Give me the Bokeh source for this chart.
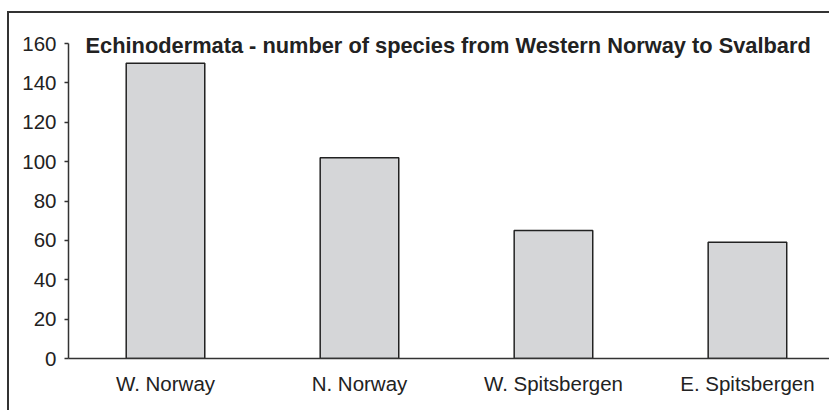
from bokeh.plotting import figure
from bokeh.models import Range1d, FixedTicker, Label, ColumnDataSource
from bokeh.layouts import column
from bokeh.embed import file_html
from bokeh.resources import INLINE

categories = ["W. Norway", "N. Norway", "W. Spitsbergen", "E. Spitsbergen"]
species = [150, 102, 65, 59]
y_ticks = [0, 20, 40, 60, 80, 100, 120, 140, 160]
title_text = "Echinodermata - number of species from Western Norway to Svalbard"

xs = list(range(len(categories)))
src = ColumnDataSource(dict(x=xs, top=species, name=categories))

FONT = "Liberation Sans"

p = figure(width=820, height=397, output_backend="svg", toolbar_location=None,
           x_range=Range1d(-0.5, 3.423), y_range=Range1d(0, 170.16),
           min_border_left=59, min_border_top=10, min_border_bottom=52,
           min_border_right=0)
p.outline_line_color = None
p.xgrid.grid_line_color = None
p.ygrid.grid_line_color = None
p.background_fill_color = "white"
p.border_fill_color = "white"

p.vbar(x="x", top="top", width=0.405, bottom=0, source=src,
       fill_color="#d5d6d8", line_color="#222222", line_width=1.5)

# y axis
ya = p.yaxis[0]
ya.ticker = FixedTicker(ticks=y_ticks)
ya.bounds = (0, 160)
ya.minor_tick_line_color = None
ya.major_tick_in = 0
ya.major_tick_out = 4
ya.axis_line_color = "#333333"
ya.axis_line_width = 1.5
ya.major_tick_line_color = "#333333"
ya.major_tick_line_width = 1.5
ya.major_label_text_font = FONT
ya.major_label_text_font_size = "20.5px"
ya.major_label_text_color = "#222222"
ya.major_label_standoff = 8

# x axis
xa = p.xaxis[0]
xa.ticker = FixedTicker(ticks=xs)
xa.major_label_overrides = {i: c for i, c in zip(xs, categories)}
xa.minor_tick_line_color = None
xa.major_tick_line_color = None
xa.major_tick_in = 0
xa.major_tick_out = 0
xa.axis_line_color = "#333333"
xa.axis_line_width = 1.5
xa.major_label_text_font = FONT
xa.major_label_text_font_size = "20.5px"
xa.major_label_text_color = "#222222"
xa.major_label_standoff = 13

title = Label(x=-0.412, y=159, text=title_text, text_font=FONT,
              text_font_size="21.8px", text_font_style="bold",
              text_color="#222222", text_baseline="alphabetic",
              text_align="left")
p.add_layout(title)

layout = column(p, styles={"margin-top": "11px", "margin-left": "7px",
                           "border-left": "2px solid #333333",
                           "border-top": "2px solid #333333"})

open("out.html", "w").write(file_html(layout, INLINE))
